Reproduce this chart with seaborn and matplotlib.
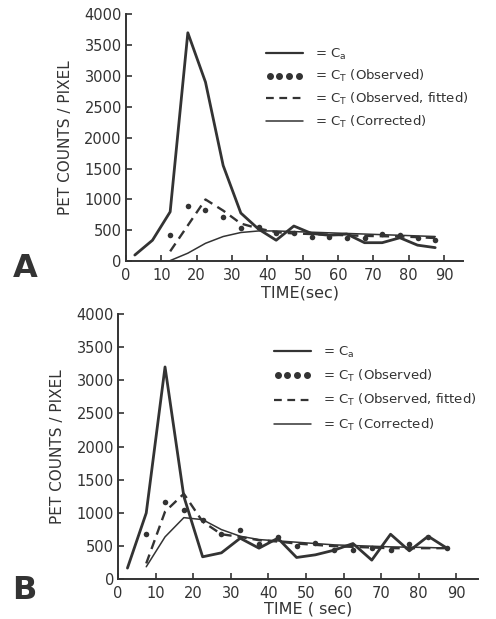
import pandas as pd
import seaborn as sns
from matplotlib import pyplot as plt
from matplotlib.lines import Line2D
from matplotlib.legend_handler import HandlerLine2D

sns.set_theme(style="ticks")
plt.rcParams['font.family'] = ['DejaVu Sans']

INK = "#333333"

# sample times (sec), shared by both panels
time = [2.5, 7.5, 12.5, 17.5, 22.5, 27.5, 32.5, 37.5, 42.5,
        47.5, 52.5, 57.5, 62.5, 67.5, 72.5, 77.5, 82.5, 87.5]

# panel A
a_ca = [100, 340, 800, 3700, 2900, 1550, 780, 520, 340,
        570, 450, 420, 440, 300, 300, 380, 260, 220]
a_obs = [None, None, 430, 900, 830, 710, 530, 550, 450,
         450, 390, 385, 370, 380, 440, 420, 380, 350]
a_fit = [None, None, 160, 580, 1000, 820, 610, 530, 470,
         450, 440, 430, 420, 410, 405, 400, 390, 375]
a_cor = [None, None, 10, 130, 290, 400, 465, 490, 490,
         480, 470, 460, 450, 440, 430, 420, 410, 400]

# panel B
b_ca = [170, 1000, 3200, 1250, 340, 400, 620, 470, 620,
        330, 370, 440, 540, 290, 680, 430, 650, 470]
b_obs = [None, 690, 1160, 1040, 900, 680, 750, 530, 640,
         500, 550, 450, 440, 480, 440, 540, 640, 470]
b_fit = [None, 240, 1020, 1290, 870, 680, 640, 590, 570,
         540, 520, 500, 490, 480, 470, 470, 470, 470]
b_cor = [None, 190, 640, 930, 900, 750, 650, 600, 580,
         560, 540, 520, 510, 500, 490, 485, 480, 470]

yticks = list(range(0, 4001, 500))
xticks = list(range(0, 91, 10))

fig = plt.figure(figsize=(4.96, 6.19), dpi=100)

panels = [
    dict(data=(a_ca, a_obs, a_fit, a_cor), rect=[0.254, 0.578, 0.679, 0.399],
         xmax=95.3, xlabel="TIME(sec)", xlab_x=0.516, xlab_y=-0.10, letter="A",
         letter_xy=(0.026, 0.553), leg_xy=(0.536, 0.925), spacing=0.5),
    dict(data=(b_ca, b_obs, b_fit, b_cor), rect=[0.238, 0.064, 0.726, 0.429],
         xmax=95.8, xlabel="TIME ( sec)", xlab_x=0.529, xlab_y=-0.085, letter="B",
         letter_xy=(0.024, 0.033), leg_xy=(0.552, 0.443), spacing=0.62),
]

for p in panels:
    ca, obs, fit, cor = p["data"]
    df = pd.DataFrame({"time": time, "ca": ca, "obs": obs, "fit": fit, "cor": cor})
    ax = fig.add_axes(p["rect"])

    sns.lineplot(data=df, x="time", y="ca", ax=ax, color=INK, lw=2.0)
    sns.lineplot(data=df.dropna(subset=["fit"]), x="time", y="fit", ax=ax,
                 color=INK, lw=1.7, dashes=False, linestyle=(0, (4, 2.5)))
    sns.lineplot(data=df.dropna(subset=["cor"]), x="time", y="cor", ax=ax,
                 color=INK, lw=1.1)
    sns.scatterplot(data=df.dropna(subset=["obs"]), x="time", y="obs", ax=ax,
                    color=INK, s=16, linewidth=0, zorder=5)

    ax.set_xlim(0, p["xmax"])
    ax.set_ylim(0, 4000)
    ax.set_xticks(xticks)
    ax.set_yticks(yticks)
    sns.despine(ax=ax)
    for s in ("left", "bottom"):
        ax.spines[s].set_linewidth(1.4)
        ax.spines[s].set_color(INK)
    ax.tick_params(direction="in", length=4, width=1.2, colors=INK,
                   labelsize=10.5, pad=3)
    ax.tick_params(axis="x", pad=5)

    ax.set_ylabel("PET COUNTS / PIXEL", fontsize=11, color=INK, labelpad=8)
    ax.set_xlabel(p["xlabel"], fontsize=11.5, color=INK)
    ax.xaxis.set_label_coords(p["xlab_x"], p["xlab_y"])

    fig.text(p["letter_xy"][0], p["letter_xy"][1], p["letter"], fontsize=23,
             fontweight="bold", color=INK)

    h_ca = Line2D([], [], color=INK, lw=1.6)
    h_obs = Line2D([], [], color=INK, ls="none", marker="o", markersize=4)
    h_fit = Line2D([], [], color=INK, lw=1.6, linestyle=(0, (3.5, 2.5)))
    h_cor = Line2D([], [], color=INK, lw=1.1)
    labels = [r"= C$_\mathrm{a}$", r"= C$_\mathrm{T}$ (Observed)",
              r"= C$_\mathrm{T}$ (Observed, fitted)", r"= C$_\mathrm{T}$ (Corrected)"]
    leg = ax.legend([h_ca, h_obs, h_fit, h_cor], labels,
                    handler_map={h_obs: HandlerLine2D(numpoints=4)},
                    loc="upper left", bbox_to_anchor=p["leg_xy"],
                    bbox_transform=fig.transFigure, frameon=False,
                    fontsize=9.5, handlelength=2.8, handletextpad=0.9,
                    labelspacing=p["spacing"], borderpad=0, borderaxespad=0)
    for t in leg.get_texts():
        t.set_color(INK)

fig.savefig("out.png", dpi=100)
